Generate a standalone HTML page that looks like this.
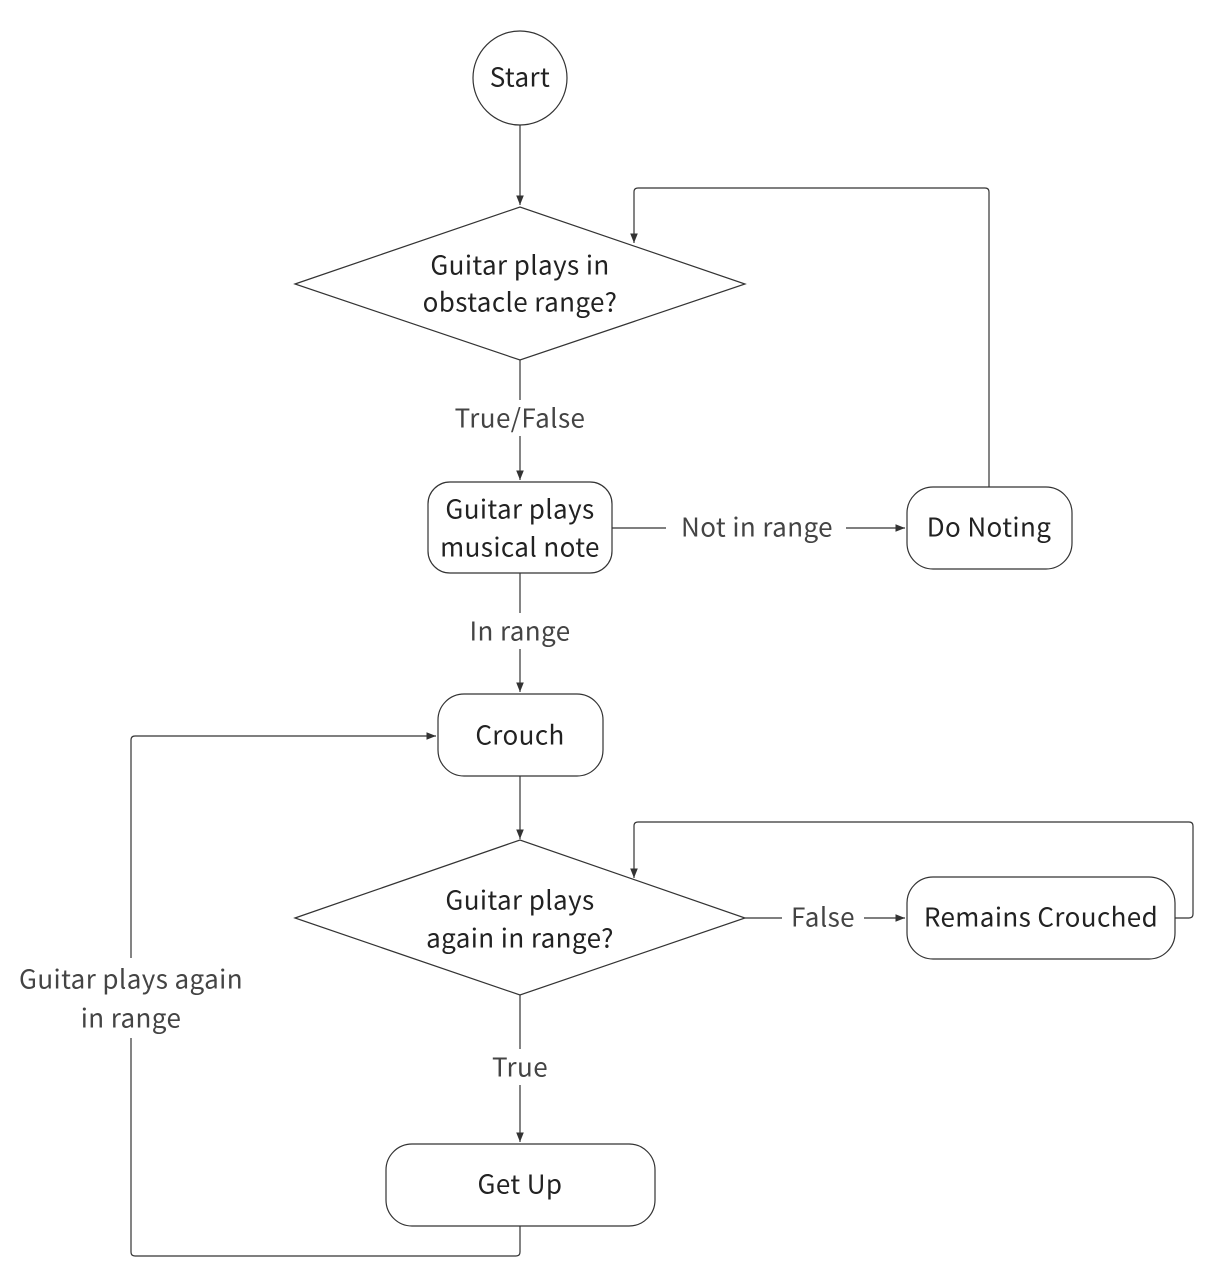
<!DOCTYPE html>
<html><head><meta charset="utf-8"><style>
html,body{margin:0;padding:0;background:#fff;}
svg{display:block;}
text{font-family:"Noto Sans CJK JP","Liberation Sans",sans-serif;font-size:26px;letter-spacing:0.4px;fill:#222;text-anchor:middle;dominant-baseline:central;}
.l{fill:#444;}
</style></head><body>
<svg width="1221" height="1279" viewBox="0 0 1221 1279" xmlns="http://www.w3.org/2000/svg">
<defs><marker id="a" viewBox="0 0 10 10" refX="10" refY="5" markerWidth="8" markerHeight="8" orient="auto"><path d="M0,1 L10,5 L0,9 z" fill="#333"/></marker></defs>
<g fill="none" stroke="#333" stroke-width="1.2">
<circle cx="520" cy="78" r="47" fill="#fff"/>
<path d="M520 125 V205" marker-end="url(#a)"/>
<polygon points="295,284 520,207 745,284 520,360" fill="#fff"/>
<path d="M520 360 V480" marker-end="url(#a)"/>
<rect x="428" y="482" width="184" height="91" rx="22" fill="#fff"/>
<path d="M612 528 H905" marker-end="url(#a)"/>
<rect x="907" y="487" width="165" height="82" rx="26" fill="#fff"/>
<path d="M989 487 V192 Q989 188 985 188 H638 Q634 188 634 192 V243" marker-end="url(#a)"/>
<path d="M520 573 V692" marker-end="url(#a)"/>
<rect x="438" y="694" width="165" height="82" rx="26" fill="#fff"/>
<path d="M520 776 V839" marker-end="url(#a)"/>
<polygon points="295,918 520,840 745,918 520,995" fill="#fff"/>
<path d="M745 918 H905" marker-end="url(#a)"/>
<rect x="907" y="877" width="268" height="82" rx="26" fill="#fff"/>
<path d="M1175 918 H1189 Q1193 918 1193 914 V826 Q1193 822 1189 822 H638 Q634 822 634 826 V878" marker-end="url(#a)"/>
<path d="M520 995 V1142" marker-end="url(#a)"/>
<rect x="386" y="1144" width="269" height="82" rx="26" fill="#fff"/>
<path d="M520 1226 V1252 Q520 1256 516 1256 H135 Q131 1256 131 1252 V740 Q131 736 135 736 H436" marker-end="url(#a)"/>
</g>
<rect x="445" y="400" width="150" height="36" fill="#fff"/>
<rect x="666" y="509" width="180" height="36" fill="#fff"/>
<rect x="456" y="613" width="128" height="36" fill="#fff"/>
<rect x="782" y="899" width="82" height="36" fill="#fff"/>
<rect x="483" y="1049" width="74" height="36" fill="#fff"/>
<rect x="8" y="958" width="246" height="80" fill="#fff"/>
<text x="520" y="76">Start</text>
<text x="520" y="264">Guitar plays in</text>
<text x="520" y="301">obstacle range?</text>
<text class="l" x="520" y="417">True/False</text>
<text x="520" y="508">Guitar plays</text>
<text x="520" y="546">musical note</text>
<text class="l" x="757" y="526">Not in range</text>
<text x="989" y="526">Do Noting</text>
<text class="l" x="520" y="630">In range</text>
<text x="520" y="734">Crouch</text>
<text x="520" y="899">Guitar plays</text>
<text x="520" y="937">again in range?</text>
<text class="l" x="823" y="916">False</text>
<text x="1041" y="916">Remains Crouched</text>
<text class="l" x="520" y="1066">True</text>
<text x="520" y="1183">Get Up</text>
<text class="l" x="131" y="978">Guitar plays again</text>
<text class="l" x="131" y="1017">in range</text>
</svg>
</body></html>
